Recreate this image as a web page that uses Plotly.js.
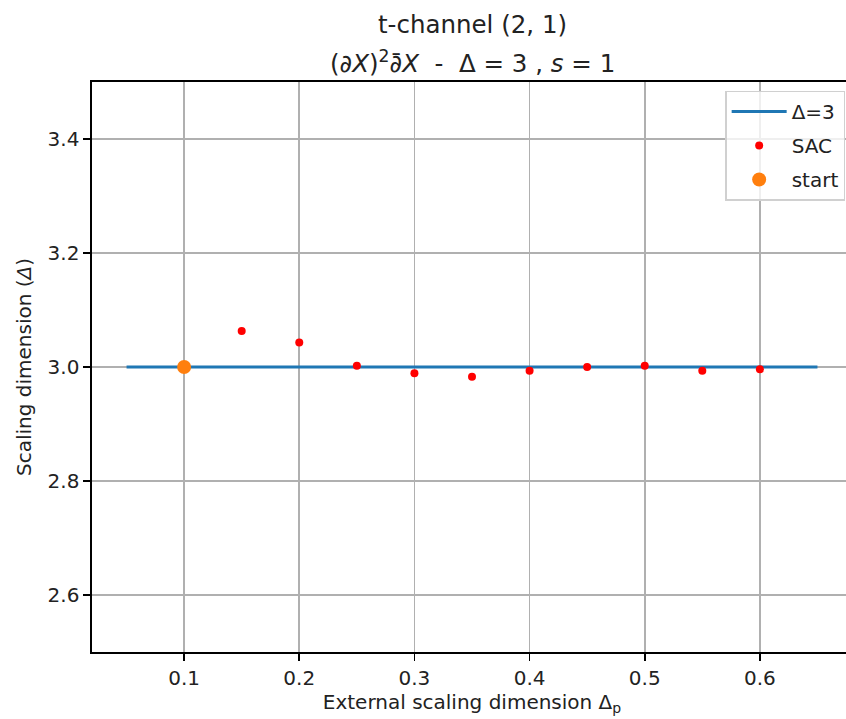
<!DOCTYPE html>
<html>
<head>
<meta charset="utf-8">
<script src="https://cdn.plot.ly/plotly-3.0.1.min.js"></script>
<style>
html,body{margin:0;padding:0;overflow:hidden;background:#fff;width:846px;height:719px;}
#plot{width:866px;height:719px;}
</style>
</head>
<body>
<div id="plot"></div>
<script>
// Reference line Δ=3
const lineX = [0.05, 0.65];
const lineY = [3.0, 3.0];
// SAC points
const sacX = [0.15, 0.2, 0.25, 0.3, 0.35, 0.4, 0.45, 0.5, 0.55, 0.6];
const sacY = [3.063, 3.043, 3.002, 2.989, 2.983, 2.9935, 3.0, 3.002, 2.9935, 2.996];
// Start point
const startX = [0.1];
const startY = [3.0];
const xTicks = [0.1, 0.2, 0.3, 0.4, 0.5, 0.6];
const xTickLabels = ["0.1", "0.2", "0.3", "0.4", "0.5", "0.6"];
const yTicks = [2.6, 2.8, 3.0, 3.2, 3.4];
const yTickLabels = ["2.6", "2.8", "3.0", "3.2", "3.4"];

const font = "DejaVu Sans, sans-serif";
const fs = 20;
const traces = [
  {x: lineX, y: lineY, mode: "lines", name: "Δ=3", legendgroup: "a", line: {color: "#1f77b4", width: 3}},
  {x: sacX, y: sacY, mode: "markers", name: "SAC", legendgroup: "b", marker: {color: "#ff0000", size: 8}},
  {x: startX, y: startY, mode: "markers", name: "start", legendgroup: "c", marker: {color: "#ff7f0e", size: 14}}
];
const axisCommon = {
  showline: true, linecolor: "#000", linewidth: 1.6, mirror: true,
  ticks: "outside", ticklen: 7, tickwidth: 1.6, tickcolor: "#000",
  showgrid: true, gridcolor: "#b0b0b0", gridwidth: 1.6, zeroline: false,
  tickfont: {family: font, size: fs, color: "#222"}
};
const layout = {
  width: 866, height: 719,
  margin: {l: 92, r: 14, t: 82, b: 67},
  paper_bgcolor: "#fff", plot_bgcolor: "#fff",
  font: {family: font, color: "#222"},
  showlegend: true,
  xaxis: Object.assign({}, axisCommon, {
    range: [0.02, 0.68], tickvals: xTicks, ticktext: xTickLabels,
    title: {text: "External scaling dimension Δ<sub>p</sub>", font: {family: font, size: fs, color: "#222"}, standoff: 6}
  }),
  yaxis: Object.assign({}, axisCommon, {
    range: [2.5, 3.5], tickvals: yTicks, ticktext: yTickLabels,
    title: {text: "Scaling dimension (<i>Δ</i>)", font: {family: font, size: fs, color: "#222"}, standoff: 10}
  }),
  legend: {
    x: 0.991, y: 0.985, xanchor: "right", yanchor: "top",
    bgcolor: "rgba(255,255,255,0.8)", bordercolor: "#d0d0d0", borderwidth: 1.5,
    font: {family: font, size: fs, color: "#222"}, itemwidth: 55, tracegroupgap: 5
  },
  annotations: [
    {text: "t-channel (2, 1)", xref: "paper", yref: "paper", x: 0.5, y: 1 + 57/570, xanchor: "center", yanchor: "middle", showarrow: false, font: {family: font, size: 24.5, color: "#222"}},
    {text: "(∂<i>X</i>)<sup>2</sup>∂̄<i>X</i>\u00a0\u00a0-\u00a0\u00a0Δ\u00a0=\u00a03\u00a0,\u00a0<i>s</i>\u00a0=\u00a01", xref: "paper", yref: "paper", x: 0.5, y: 1 + 20/570, xanchor: "center", yanchor: "middle", showarrow: false, font: {family: font, size: 24.5, color: "#222"}}
  ]
};
Plotly.newPlot("plot", traces, layout, {displayModeBar: false, staticPlot: true});
</script>
</body>
</html>
